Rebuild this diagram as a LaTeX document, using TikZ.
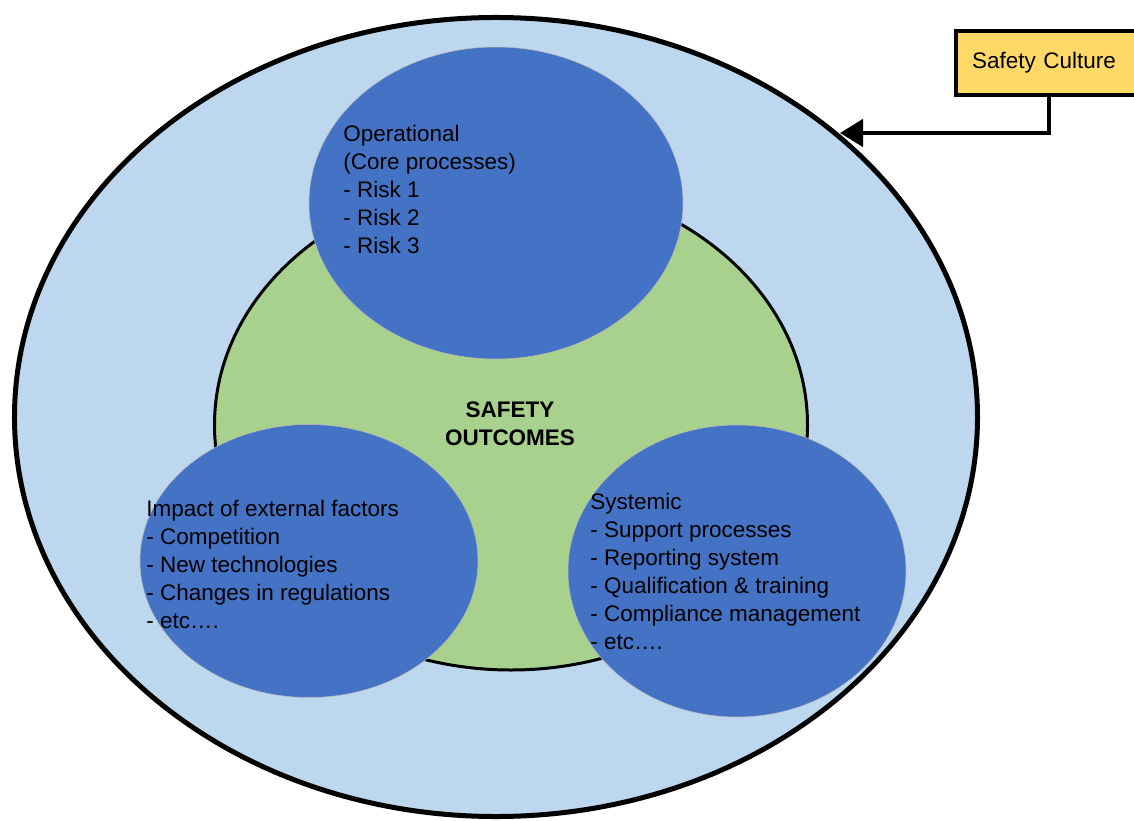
\documentclass[tikz,border=0pt]{standalone}
\usepackage{fontspec}
\setmainfont{Liberation Sans}
\usepackage{xcolor}
\definecolor{zonefill}{RGB}{189,215,238}
\definecolor{outcomefill}{RGB}{169,209,142}
\definecolor{areafill}{RGB}{68,114,196}
\definecolor{boxfill}{RGB}{255,217,102}
\usetikzlibrary{shapes.geometric,arrows.meta}
\tikzset{
  area/.style={ellipse, fill=areafill, draw=gray!55, line width=0.3pt, inner sep=0pt},
  areatext/.style={anchor=north west, align=left, inner sep=0pt, font=\fontsize{12.8}{15.9}\selectfont},
}

\begin{document}
\begin{tikzpicture}[x=0.2mm,y=-0.2mm]
\useasboundingbox (0,0) rectangle (1134,821);
\clip (0,0) rectangle (1134,821);
% outer zone and outcome circle
\node[ellipse, fill=zonefill, draw, line width=1mm, inner sep=0pt,
  minimum width=192.6mm, minimum height=159.8mm] (zone) at (496,417) {};
\node[ellipse, fill=outcomefill, draw, line width=0.6mm, inner sep=0pt,
  minimum width=118.6mm, minimum height=98mm] (outcomes) at (511,425) {};
% the three risk areas
\node[area, minimum width=74.8mm, minimum height=62.4mm] (operational) at (496,203) {};
\node[area, minimum width=67.6mm, minimum height=54.6mm] (external) at (309,561) {};
\node[area, minimum width=67.6mm, minimum height=58.4mm] (systemic) at (737,571) {};
\node[areatext] (operationaltext) at (343,125)
  {Operational\\(Core processes)\\- Risk 1\\- Risk 2\\- Risk 3};
\node[areatext] (externaltext) at (146,500)
  {Impact of external factors\\- Competition\\- New technologies\\- Changes in regulations\\- etc\ldots.};
\node[areatext] (systemictext) at (590,493)
  {Systemic\\- Support processes\\- Reporting system\\- Qualification \& training\\- Compliance management\\- etc\ldots.};
\node[align=center, inner sep=0pt, font=\fontsize{12.8}{15.9}\selectfont\bfseries]
  (outcomestext) at (510,424) {SAFETY\\OUTCOMES};
% safety culture box and arrow
\node[draw, line width=0.8mm, fill=boxfill, minimum height=12.8mm, minimum width=37.4mm,
  text width=30.8mm, inner xsep=2.8mm, align=left, font=\fontsize{12.8}{15.9}\selectfont]
  (culture) at (1049,63) {Safety Culture};
\coordinate (tip) at (840,133);
\draw[line width=0.9mm, -{Triangle[length=4.6mm,width=5.4mm]}] (culture.south) |- (tip);
\end{tikzpicture}
\end{document}
